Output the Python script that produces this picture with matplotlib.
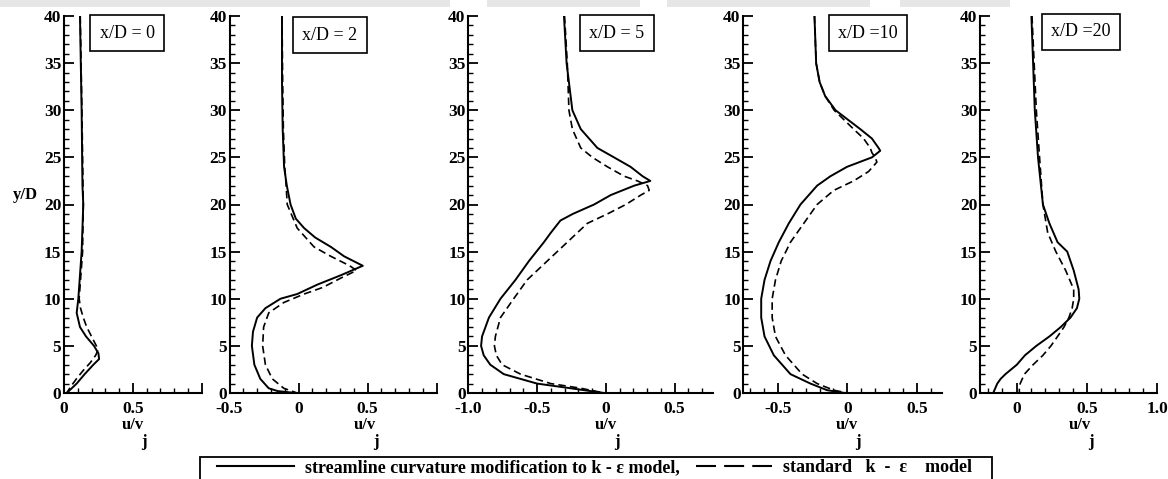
import matplotlib
matplotlib.use("Agg")
import matplotlib.pyplot as plt
from matplotlib.lines import Line2D
from matplotlib.patches import Rectangle
from matplotlib.ticker import MultipleLocator, FixedLocator, FixedFormatter

# ---- velocity profiles u/vj against y/D, read per station ----
stations = ["x/D = 0", "x/D = 2", "x/D = 5", "x/D =10", "x/D =20"]

# x/D = 0
y_sc_0 = [40, 30, 22, 20, 15, 12.5, 10, 8.5, 7, 6, 5, 4.2, 3.6, 3, 2, 1, 0]
u_sc_0 = [0.116, 0.128, 0.134, 0.14, 0.128, 0.116, 0.104, 0.092, 0.116, 0.16, 0.218, 0.25, 0.255, 0.213, 0.15, 0.092, 0.02]
y_std_0 = [40, 30, 20, 15, 12, 10, 9, 8, 7, 6, 5, 4.5, 4, 3.2, 2.4, 1.5, 0.7, 0]
u_std_0 = [0.118, 0.13, 0.14, 0.135, 0.12, 0.11, 0.12, 0.14, 0.165, 0.2, 0.235, 0.245, 0.23, 0.19, 0.14, 0.09, 0.05, 0.02]

# x/D = 2
y_sc_2 = [40, 33, 28, 24, 22, 20, 18.5, 17.5, 16.5, 15.5, 14.5, 13.5, 12.5, 11.5, 10.5, 10, 9, 8, 6.5, 5, 3, 1.5, 0.5, 0.2, 0]
u_sc_2 = [-0.12, -0.12, -0.115, -0.105, -0.085, -0.058, -0.02, 0.04, 0.12, 0.234, 0.33, 0.465, 0.307, 0.136, -0.01,
          -0.131, -0.24, -0.3, -0.33, -0.338, -0.32, -0.277, -0.216, -0.15, -0.02]
y_std_2 = [40, 33, 28, 24, 22, 20, 17.5, 15.5, 14.5, 13.5, 13, 12.2, 11.2, 10.5, 9.6, 8.5, 7, 5, 3, 1.5, 0.5, 0]
u_std_2 = [-0.12, -0.115, -0.11, -0.1, -0.09, -0.082, -0.01, 0.112, 0.234, 0.37, 0.42, 0.307, 0.175, 0.04, -0.107,
           -0.216, -0.253, -0.26, -0.24, -0.19, -0.107, -0.01]

# x/D = 5
y_sc_5 = [40, 35, 30, 28, 26, 25, 24, 23, 22.5, 22, 21, 20, 19, 18.3, 17, 16, 14, 12, 10, 8, 6, 5, 4, 3, 2, 1, 0.5, 0]
u_sc_5 = [-0.304, -0.285, -0.243, -0.182, -0.061, 0.06, 0.18, 0.268, 0.324, 0.207, 0.036, -0.085, -0.24, -0.33,
          -0.4, -0.45, -0.559, -0.657, -0.766, -0.85, -0.9, -0.907, -0.888, -0.84, -0.742, -0.5, -0.255, -0.012]
y_std_5 = [40, 35, 33, 30, 28, 26, 25, 24, 23, 22.5, 22, 21.5, 21, 20, 19, 18, 16, 14, 12, 10, 8, 6, 5, 4, 3, 2, 1,
           0.5, 0]
u_std_5 = [-0.3, -0.28, -0.275, -0.268, -0.243, -0.182, -0.097, 0.012, 0.134, 0.231, 0.304, 0.316, 0.255, 0.146,
           0.012, -0.134, -0.28, -0.426, -0.572, -0.67, -0.766, -0.803, -0.81, -0.796, -0.754, -0.62, -0.4, -0.18,
           -0.01]

# x/D = 10
y_sc_10 = [40, 35, 33, 31.5, 30, 28, 27, 26, 25.7, 25, 24, 23, 22, 20, 18, 16, 14, 12, 10, 8, 6, 4, 2, 1, 0.3, 0]
u_sc_10 = [-0.237, -0.225, -0.2, -0.16, -0.085, 0.093, 0.177, 0.225, 0.237, 0.177, -0.002, -0.122, -0.218, -0.338,
           -0.422, -0.494, -0.554, -0.597, -0.621, -0.621, -0.597, -0.53, -0.41, -0.266, -0.146, -0.02]
y_std_10 = [40, 35, 33, 31.5, 30, 28, 27, 26, 25.5, 25, 24.5, 23.5, 22.5, 21.5, 20, 18, 16, 14, 12, 10, 8, 6, 4,
            2, 1, 0.3, 0]
u_std_10 = [-0.237, -0.225, -0.2, -0.16, -0.095, 0.045, 0.117, 0.165, 0.177, 0.2, 0.213, 0.153, 0.045, -0.098,
            -0.218, -0.314, -0.41, -0.477, -0.518, -0.542, -0.542, -0.518, -0.446, -0.326, -0.218, -0.098, 0]

# x/D = 20
y_sc_20 = [40, 35, 30, 25, 20, 18, 16, 15, 13, 11, 10, 9, 8, 7, 6, 5, 4, 3, 2, 1.5, 1, 0]
u_sc_20 = [0.106, 0.118, 0.13, 0.153, 0.188, 0.234, 0.292, 0.361, 0.407, 0.442, 0.447, 0.43, 0.384, 0.315, 0.234,
           0.141, 0.06, 0.002, -0.079, -0.113, -0.137, -0.166]
y_std_20 = [40, 30, 25, 20, 17, 15, 13, 11, 10, 9, 8, 7, 6, 5, 4, 3, 2, 1, 0.5, 0]
u_std_20 = [0.11, 0.141, 0.164, 0.188, 0.222, 0.28, 0.35, 0.407, 0.407, 0.396, 0.373, 0.338, 0.292, 0.245, 0.188,
            0.118, 0.056, 0.026, 0.02, 0.02]

curves_sc = [(u_sc_0, y_sc_0), (u_sc_2, y_sc_2), (u_sc_5, y_sc_5), (u_sc_10, y_sc_10), (u_sc_20, y_sc_20)]
curves_std = [(u_std_0, y_std_0), (u_std_2, y_std_2), (u_std_5, y_std_5), (u_std_10, y_std_10),
              (u_std_20, y_std_20)]

x_limits = [(0, 1.0), (-0.5, 1.0), (-1.0, 0.78), (-0.75, 0.68), (-0.26, 1.0)]
x_ticks = [[0, 0.5, 1.0], [-0.5, 0, 0.5, 1.0], [-1.0, -0.5, 0, 0.5], [-0.5, 0, 0.5], [0, 0.5, 1.0]]
x_ticklabels = [["0", "0.5", ""], ["-0.5", "0", "0.5", ""], ["-1.0", "-0.5", "0", "0.5"], ["-0.5", "0", "0.5"],
                ["0", "0.5", "1.0"]]
y_ticks = [0, 5, 10, 15, 20, 25, 30, 35, 40]
y_ticklabels = ["0", "5", "10", "15", "20", "25", "30", "35", "40"]

legend_labels = ["streamline curvature modification to k - \u03b5 model,", "standard   k  -  \u03b5    model"]

# ---- layout in pixels ----
W, H = 1168, 479
panel_px = [(64, 201.7), (229.5, 436.7), (468.3, 713), (743.3, 941.7), (980, 1157)]
box_px = [(127, 33), (330, 35), (617, 33), (868, 33), (1081, 32)]
ulabel_u = [0.5, 0.48, 0.0, 0.0, 0.45]
top_px, bot_px = 16, 393

serif = "Liberation Serif"
bold = dict(family=serif, weight="bold", size=12)

fig = plt.figure(figsize=(W / 100, H / 100), dpi=100)

# faint band along the top edge
for x0, x1 in [(0, 450), (487, 640), (667, 870), (900, 1010)]:
    fig.patches.append(Rectangle((x0 / W, 1 - 7 / H), (x1 - x0) / W, 7 / H, transform=fig.transFigure,
                                 facecolor="#e6e6e6", edgecolor="none", zorder=0))

for i, (l, r) in enumerate(panel_px):
    ax = fig.add_axes([l / W, 1 - bot_px / H, (r - l) / W, (bot_px - top_px) / H])
    u, y = curves_sc[i]
    ax.plot(u, y, color="black", lw=1.4, solid_joinstyle="round")
    u, y = curves_std[i]
    ax.plot(u, y, color="black", lw=1.2, dashes=(4.5, 2.5))

    ax.set_xlim(*x_limits[i])
    ax.set_ylim(0, 40)
    for side in ["top", "right"]:
        ax.spines[side].set_visible(False)
    for side in ["left", "bottom"]:
        ax.spines[side].set_linewidth(1.5)

    ax.xaxis.set_major_locator(FixedLocator(x_ticks[i]))
    ax.xaxis.set_major_formatter(FixedFormatter(x_ticklabels[i]))
    ax.xaxis.set_minor_locator(MultipleLocator(0.1))
    ax.yaxis.set_major_locator(FixedLocator(y_ticks))
    ax.yaxis.set_major_formatter(FixedFormatter(y_ticklabels))
    ax.yaxis.set_minor_locator(MultipleLocator(1))
    ax.tick_params(which="both", direction="in", top=False, right=False, color="black")
    ax.tick_params(which="major", length=7, width=1.3)
    ax.tick_params(which="minor", length=3.5, width=1.0)
    ax.tick_params(axis="x", pad=6)
    ax.tick_params(axis="y", pad=2)
    for lab in ax.get_xticklabels() + ax.get_yticklabels():
        lab.set_fontfamily(serif)
        lab.set_fontweight("bold")
        lab.set_fontsize(12.5)

    # station tag
    bx, by = box_px[i]
    fig.text(bx / W, 1 - by / H, stations[i], family=serif, size=13, ha="center", va="center",
             bbox=dict(boxstyle="square,pad=0.5", facecolor="white", edgecolor="black", linewidth=1.2))

    # axis title u/vj under each panel
    xa = ax.transData.transform((ulabel_u[i], 0))[0] / W
    fig.text(xa, 1 - 425 / H, "u/v", ha="center", va="center", **bold)
    fig.text(xa + 11 / W, 1 - 442 / H, "j", ha="center", va="center", **bold)

fig.text(25 / W, 1 - 195 / H, "y/D", ha="center", va="center", **bold)

# legend strip along the bottom edge, frame runs past the figure
fig.patches.append(Rectangle((200 / W, -10 / H), 792 / W, (479 - 457 + 10) / H, transform=fig.transFigure,
                             facecolor="white", edgecolor="black", linewidth=1.3, zorder=1))
handles = [Line2D([], [], color="black", lw=1.5),
           Line2D([], [], color="black", lw=1.5, dashes=(9.6, 3.9))]
leg = fig.legend(handles, legend_labels, loc="center left", bbox_to_anchor=(217 / W, 1 - 468 / H), ncol=2,
                 frameon=False, handlelength=4.25, handletextpad=0.6, columnspacing=0.9,
                 borderpad=0, borderaxespad=0, prop=dict(family=serif, weight="bold", size=13))

fig.savefig("out.png", dpi=100)
